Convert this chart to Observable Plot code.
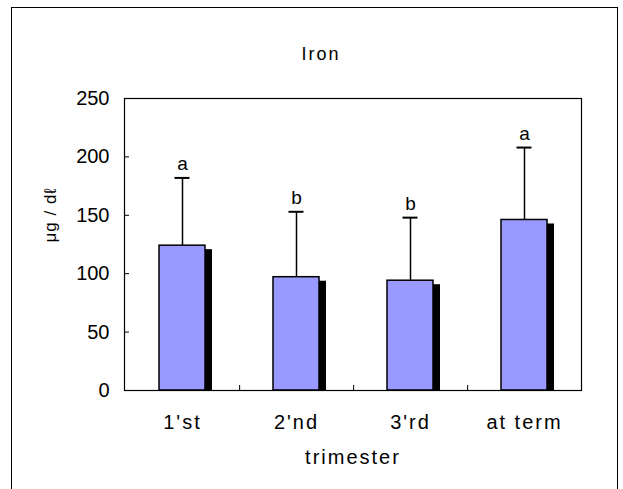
<!DOCTYPE html>
<html><head><meta charset="utf-8">
<script src="https://cdn.jsdelivr.net/npm/d3@7"></script>
<script src="https://cdn.jsdelivr.net/npm/@observablehq/plot@0.6"></script>
<style>
body{margin:0;background:#fff;overflow:hidden}
#wrap{position:relative;width:623px;height:489px;font-family:"Liberation Sans",Arial,sans-serif;overflow:hidden}
#border{position:absolute;left:11px;top:7px;width:605px;height:500px;border:1px solid #000}
#title{position:absolute;left:321px;top:44.5px;transform:translateX(-50%);font-size:18px;line-height:18px;letter-spacing:2px;color:#000}
#chart{position:absolute;left:0;top:0}
g[aria-label="x-axis tick label"] text{letter-spacing:2px}
g[aria-label="text"].xlabel text{letter-spacing:2px}
g[aria-label="text"].ylabel text{letter-spacing:1px}
</style></head><body>
<div id="wrap"><div id="border"></div><div id="chart"></div><div id="title"></div></div>
<script>
const titleText = "Iron";
const xLabel = "trimester";
const yLabel = "μg / dℓ";
const categories = ["1'st", "2'nd", "3'rd", "at term"];
const means = [124, 97, 94, 146];
const sds = [58, 56, 54, 62];
const letters = ["a", "b", "b", "a"];
const yTicks = [0, 50, 100, 150, 200, 250];

document.getElementById("title").textContent = titleText;

const data = categories.map((c, i) => ({cat: c, mean: means[i], upper: means[i] + sds[i], letter: letters[i]}));

const W = 623, H = 489, mL = 124, mR = 42, mT = 98, mB = 99;
const halfStep = (W - mL - mR) / categories.length / 2;

const chart = Plot.plot({
  width: W, height: H,
  marginLeft: mL, marginRight: mR, marginTop: mT, marginBottom: mB,
  style: {fontFamily: "'Liberation Sans', Arial, sans-serif", fontSize: "20px", background: "transparent", color: "#000"},
  x: {domain: categories, paddingInner: 0.6, paddingOuter: 0.3, label: null},
  y: {domain: [0, 250], label: null},
  marks: [
    Plot.barY(data, {x: "cat", y: "mean", fill: "#000", dx: 7, dy: 4, clip: true}),
    Plot.barY(data, {x: "cat", y: "mean", fill: "#9999ff", stroke: "#000", strokeWidth: 1.5}),
    Plot.ruleX(data, {x: "cat", y1: "mean", y2: "upper", stroke: "#000", strokeWidth: 1.5}),
    Plot.tickY(data, {x: "cat", y: "upper", insetLeft: 15.5, insetRight: 15.5, stroke: "#000", strokeWidth: 2}),
    Plot.text(data, {x: "cat", y: "upper", text: "letter", dy: -14, fontSize: 19, fill: "#000"}),
    Plot.frame({stroke: "#000", strokeWidth: 1.2}),
    Plot.axisY({ticks: yTicks, tickSize: 0, tickPadding: 15, fontSize: 20, label: null}),
    Plot.axisY({ticks: yTicks, tickSize: -5, text: null, label: null}),
    Plot.axisX({tickSize: 0, tickPadding: 24, fontSize: 20, label: null}),
    Plot.axisX({ticks: categories.slice(0, 3), tickSize: -5, dx: halfStep, text: null, label: null}),
    Plot.text([xLabel], {frameAnchor: "bottom", dy: 73, fontSize: 20, fill: "#000", className: "xlabel"}),
    Plot.text([yLabel], {frameAnchor: "left", dx: -74, dy: -2, rotate: -90, fontSize: 17, fill: "#000", className: "ylabel"})
  ]
});
document.getElementById("chart").appendChild(chart);
</script>
</body></html>
